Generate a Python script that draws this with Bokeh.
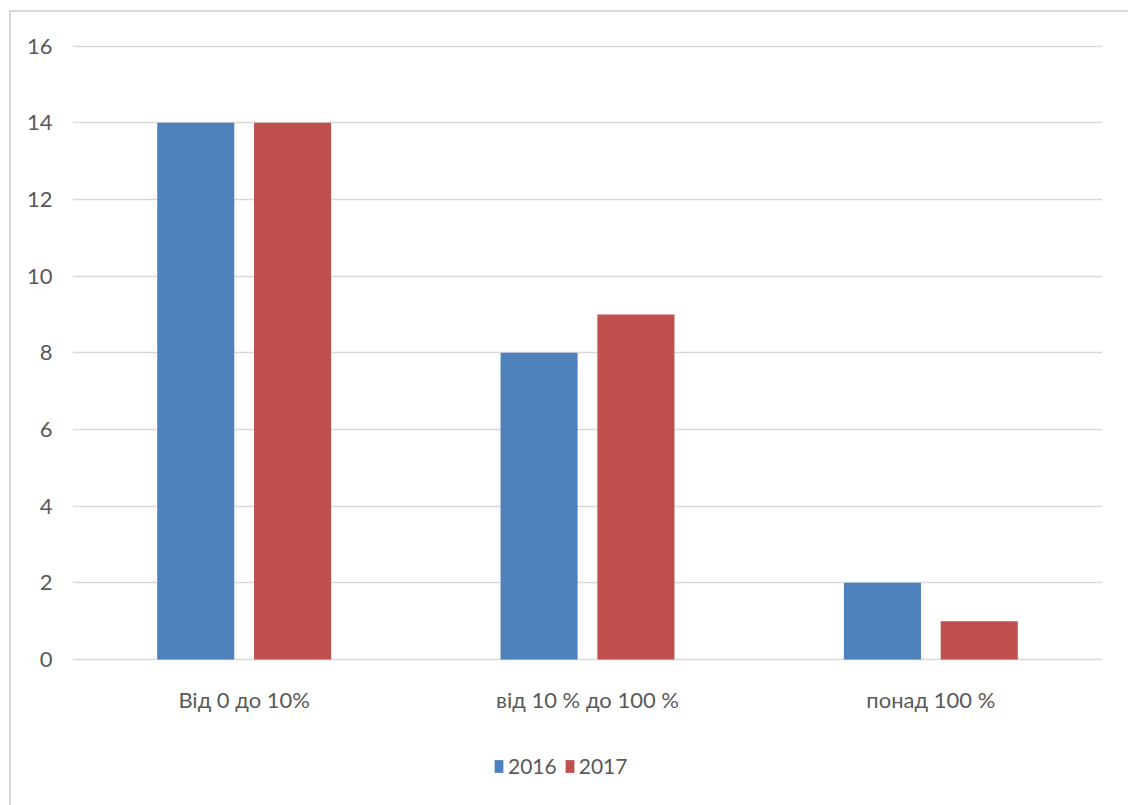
from bokeh.plotting import figure
from bokeh.layouts import column
from bokeh.models import FactorRange, Range1d, Legend, LegendItem, ColumnDataSource
from bokeh.transform import dodge
from bokeh.embed import file_html
from bokeh.resources import INLINE

categories = ["Від 0 до 10%", "від 10 % до 100 %", "понад 100 %"]
series_names = ["2016", "2017"]
values_2016 = [14, 8, 2]
values_2017 = [14, 9, 1]
y_ticks = [0, 2, 4, 6, 8, 10, 12, 14, 16]

BLUE = "#4F81BD"
RED = "#C0504D"
GRID = "#D9D9D9"
TEXT = "#595959"
FONT = "Lato"

src = ColumnDataSource(dict(cat=categories, v2016=values_2016, v2017=values_2017))

p = figure(frame_width=1030, frame_height=635, output_backend="svg", toolbar_location=None,
           x_range=FactorRange(factors=categories, range_padding=0),
           y_range=Range1d(-0.157, 16.41),
           min_border_left=61, min_border_right=26, min_border_top=18,
           min_border_bottom=60)

p.outline_line_color = None
p.background_fill_color = "white"
p.border_fill_color = "white"

r1 = p.vbar(x=dodge("cat", -0.141, range=p.x_range), top="v2016", width=0.2245,
            source=src, color=BLUE, line_color=None)
r2 = p.vbar(x=dodge("cat", 0.141, range=p.x_range), top="v2017", width=0.2245,
            source=src, color=RED, line_color=None)

p.xgrid.grid_line_color = None
p.ygrid.grid_line_color = GRID
p.ygrid.grid_line_width = 1.5
p.yaxis.ticker = y_ticks

for ax in (p.xaxis[0], p.yaxis[0]):
    ax.axis_line_color = None
    ax.major_tick_line_color = None
    ax.minor_tick_line_color = None
    ax.major_tick_out = 0
    ax.major_tick_in = 0
    ax.major_label_text_font = FONT
    ax.major_label_text_font_size = "22px"
    ax.major_label_text_color = TEXT

p.yaxis.major_label_standoff = 20
p.xaxis.major_label_standoff = 20

# legend strip below the chart (its bars lie outside its visible y range)
lg = figure(width=1117, height=80, output_backend="svg", toolbar_location=None,
            x_axis_type=None, y_axis_type=None,
            x_range=FactorRange(factors=categories, range_padding=0),
            y_range=Range1d(100, 101),
            min_border=0)
lg.outline_line_color = None
lg.xgrid.grid_line_color = None
lg.ygrid.grid_line_color = None
g1 = lg.vbar(x="cat", top="v2016", width=0.2, source=src, color=BLUE, line_color=None)
g2 = lg.vbar(x="cat", top="v2017", width=0.2, source=src, color=RED, line_color=None)

legend = Legend(items=[LegendItem(label=series_names[0], renderers=[g1]),
                       LegendItem(label=series_names[1], renderers=[g2])],
                orientation="horizontal", location=(421, 27),
                label_text_font=FONT, label_text_font_size="21px",
                label_text_color=TEXT, glyph_width=11, glyph_height=16,
                label_standoff=4, spacing=7, border_line_color=None,
                background_fill_alpha=0, padding=0, margin=0)
lg.add_layout(legend, "center")

layout = column(p, lg, spacing=0)
layout.styles = {"margin-left": "9px", "margin-top": "10px",
                 "border-left": "2px solid #D9D9D9", "border-top": "2px solid #D9D9D9"}

open("out.html", "w").write(file_html(layout, INLINE))
